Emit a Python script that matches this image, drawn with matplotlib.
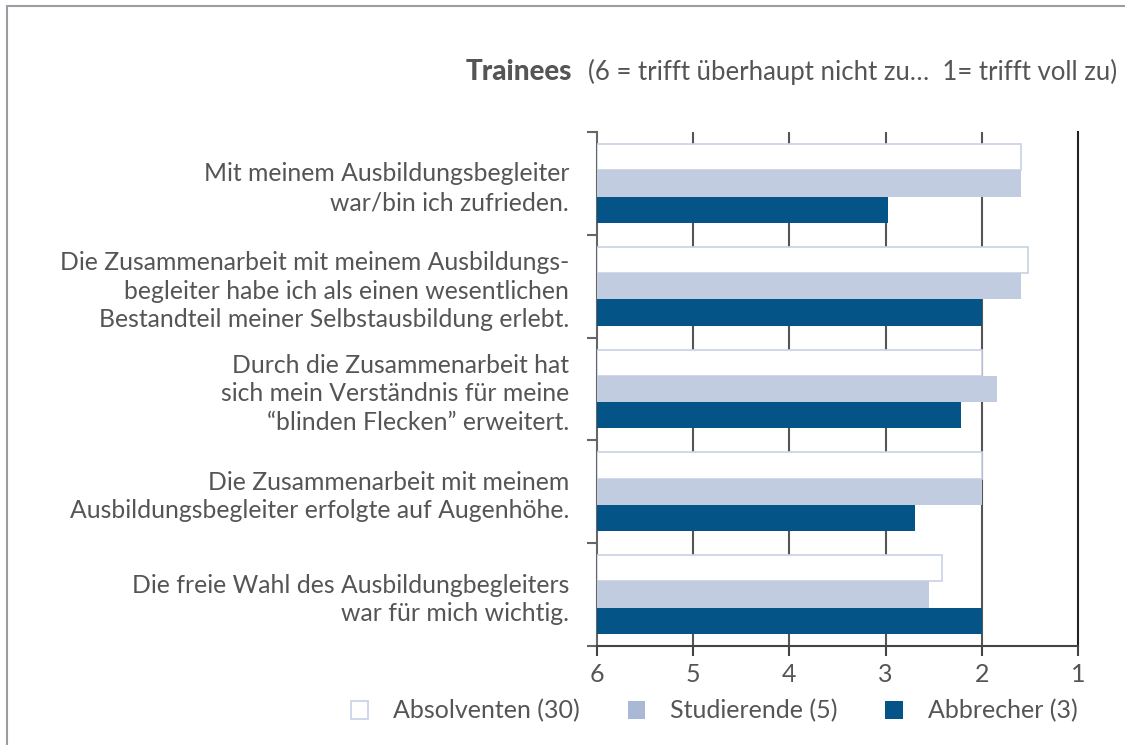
import matplotlib
matplotlib.use("Agg")
import matplotlib.pyplot as plt
from matplotlib.patches import Rectangle, Patch
import numpy as np

plt.rcParams['font.family'] = ['Lato', 'DejaVu Sans']

categories = [
    "Mit meinem Ausbildungsbegleiter\nwar/bin ich zufrieden.",
    "Die Zusammenarbeit mit meinem Ausbildungs-\nbegleiter habe ich als einen wesentlichen\nBestandteil meiner Selbstausbildung erlebt.",
    "Durch die Zusammenarbeit hat\nsich mein Verständnis für meine\n“blinden Flecken” erweitert.",
    "Die Zusammenarbeit mit meinem\nAusbildungsbegleiter erfolgte auf Augenhöhe.",
    "Die freie Wahl des Ausbildungbegleiters\nwar für mich wichtig.",
]
series_names = ["Absolventen (30)", "Studierende (5)", "Abbrecher (3)"]
absolventen = [1.59, 1.52, 2.0, 2.0, 2.41]
studierende = [1.59, 1.59, 1.84, 2.0, 2.55]
abbrecher = [2.98, 2.0, 2.22, 2.69, 2.0]
xticks = [6, 5, 4, 3, 2, 1]
title_bold = "Trainees"
title_rest = "(6 = trifft überhaupt nicht zu…  1= trifft voll zu)"

TXT = "#555555"
C_ABS_EDGE = "#c8d1e6"
C_STU = "#c1cce0"
C_ABB = "#045488"

W, H = 1125, 745
fig = plt.figure(figsize=(W / 100, H / 100), dpi=100)
fig.patch.set_facecolor("white")

# outer frame (top/left visible)
fig.patches.append(Rectangle((7 / W, -0.05), 1.2, 1 - 6 / H + 0.05, transform=fig.transFigure,
                             fill=False, edgecolor="#9a9ea3", linewidth=1.5, zorder=0))

ax = fig.add_axes([597 / W, 1 - 646 / H, (1078 - 597) / W, (646 - 132) / H])

y = np.arange(len(categories))
bh = 0.256
start = 6
ax.barh(y - bh, [start - v for v in absolventen], left=[v for v in absolventen], height=bh,
        color="white", edgecolor=C_ABS_EDGE, linewidth=1.2, zorder=3)
ax.barh(y, [start - v for v in studierende], left=[v for v in studierende], height=bh,
        color=C_STU, linewidth=0, zorder=3)
ax.barh(y + bh, [start - v for v in abbrecher], left=[v for v in abbrecher], height=bh,
        color=C_ABB, linewidth=0, zorder=3)

ax.set_xlim(6, 1)
ax.set_ylim(len(categories) - 0.5, -0.5)

# grid lines at interior ticks
for xv in xticks[1:-1]:
    ax.axvline(xv, color="#555555", linewidth=1.5, zorder=1)

ax.spines["top"].set_visible(False)
ax.spines["left"].set_color("#666666")
ax.spines["left"].set_linewidth(1.5)
ax.spines["right"].set_color("#222222")
ax.spines["right"].set_linewidth(1.5)
ax.spines["bottom"].set_color("#444444")
ax.spines["bottom"].set_linewidth(1.5)

ax.set_xticks(xticks)
ax.set_xticklabels([str(t) for t in xticks], fontsize=18, color=TXT)
ax.tick_params(axis="x", direction="out", length=7, width=1.5, color="#444444", pad=5)

ax.set_yticks(y)
ax.set_yticklabels(categories, fontsize=17.8, color=TXT, linespacing=1.3, ha="right")
ax.tick_params(axis="y", which="major", length=0, pad=20)
ax.set_yticks(np.arange(len(categories) + 1) - 0.5, minor=True)
ax.tick_params(axis="y", which="minor", direction="out", length=7, width=1.5, color="#666666")
# first label sits slightly above its group centre in the reference
lbl0 = ax.get_yticklabels()[0]
lbl0.set_y(-0.12)

# title
fig.text(572 / W, 1 - 72 / H, title_bold, fontsize=20, fontweight="black", color=TXT,
         ha="right", va="center")
fig.text(588 / W, 1 - 72 / H, title_rest, fontsize=18.5, color=TXT, ha="left", va="center")

handles = [Patch(facecolor="white", edgecolor=C_ABS_EDGE, linewidth=1.2),
           Patch(facecolor="#a9b8d5", edgecolor="none"),
           Patch(facecolor=C_ABB, edgecolor="none")]
leg = fig.legend(handles, series_names, loc="center", bbox_to_anchor=(714 / W, 1 - 711 / H),
                 ncol=3, frameon=False, fontsize=18, handlelength=0.7, handleheight=0.7,
                 handletextpad=1.0, columnspacing=1.9)
for t in leg.get_texts():
    t.set_color(TXT)

fig.savefig("out.png", dpi=100, facecolor="white")
